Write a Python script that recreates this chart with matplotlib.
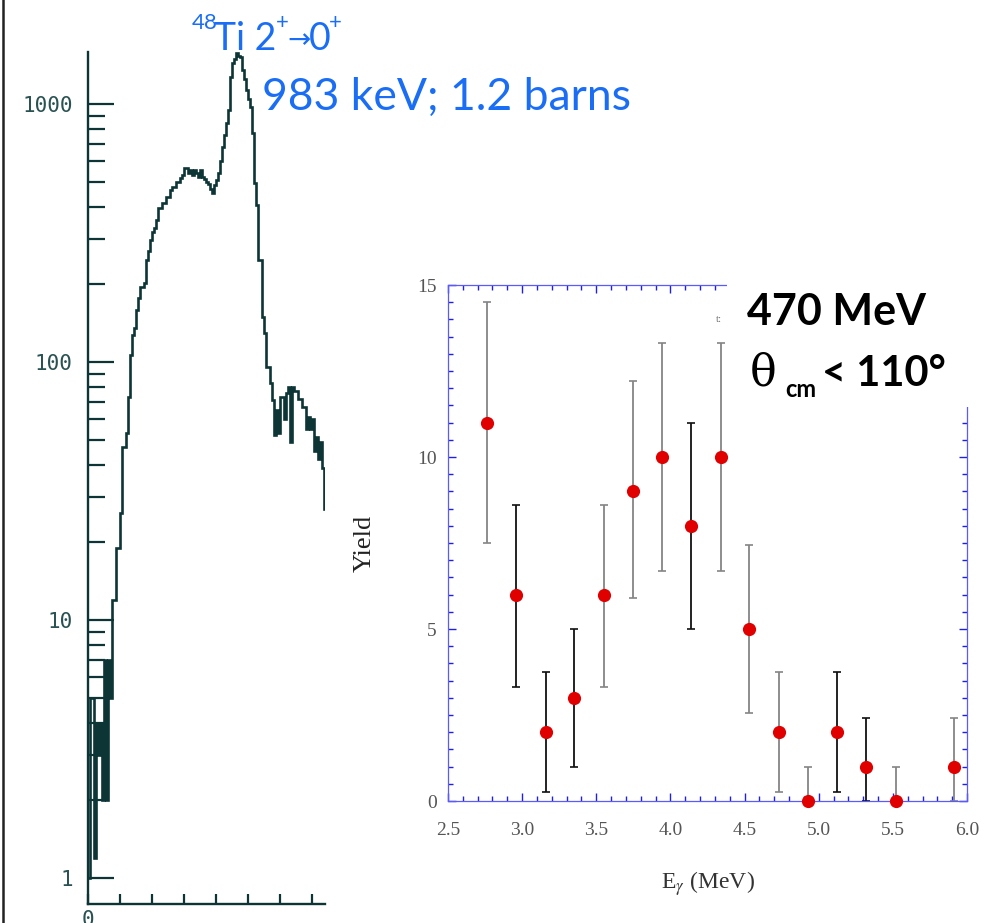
import numpy as np
import matplotlib
matplotlib.use("Agg")
import matplotlib.pyplot as plt
from matplotlib.transforms import IdentityTransform
from matplotlib.lines import Line2D
from matplotlib.patches import Rectangle
from matplotlib.ticker import MultipleLocator, FixedLocator, FixedFormatter, NullFormatter

plt.rcParams["mathtext.fontset"] = "stix"

W, H = 996, 923

# ---------------- data: gamma spectrum (counts per channel) ----------------
spectrum_counts = [
    1, 5, 5, 1.2, 4, 3, 4, 2, 7, 2, 7, 5,
    12, 12, 19, 19, 26, 47, 47, 53, 73, 106, 127, 135,
    159, 177, 195, 195, 202, 248, 270, 297, 319, 330, 355, 395,
    395, 413, 413, 436, 436, 464, 477, 477, 499, 499, 515, 531,
    565, 565, 540, 555, 530, 555, 540, 520, 555, 521, 510, 499,
    490, 470, 452, 485, 508, 540, 600, 681, 760, 844, 948, 1273,
    1442, 1500, 1576, 1540, 1521, 1355, 1250, 1133, 1050, 973, 772, 494,
    406, 248, 248, 150, 130, 96, 96, 83, 71, 52, 65, 53,
    73, 73, 60, 76, 80, 49, 80, 77, 77, 72, 72, 67,
    67, 55, 61, 55, 60, 45, 51, 42, 49, 39, 27,
]
spectrum_yticks = [1, 10, 100, 1000]
spectrum_yticklabels = ["1", "10", "100", "1000"]

# ---------------- data: yield vs E_gamma ----------------
e_gamma = [2.76, 2.96, 3.16, 3.35, 3.55, 3.75, 3.94, 4.14, 4.34, 4.53,
           4.73, 4.93, 5.12, 5.32, 5.52, 5.91]
yield_val = [11, 6, 2, 3, 6, 9, 10, 8, 10, 5, 2, 0, 2, 1, 0, 1]
yield_lo = [7.5, 3.3, 0.25, 1.0, 3.3, 5.9, 6.7, 5.0, 6.7, 2.55, 0.25, 0, 0.25, 0, 0, 0]
yield_hi = [14.5, 8.6, 3.75, 5.0, 8.6, 12.2, 13.3, 11.0, 13.3, 7.45, 3.75, 1.0, 3.75, 2.4, 1.0, 2.4]
bar_is_black = [False, True, True, True, False, False, False, True, False, False,
                False, False, True, True, False, False]

fig = plt.figure(figsize=(W / 100, H / 100), dpi=100)
fig.patch.set_facecolor("white")

def fx(px):
    return px / W

def fy(py):
    return 1 - py / H

# ---------------- left panel: spectrum ----------------
dark = "#0d3535"
axL = fig.add_axes([fx(88), fy(904), (325 - 88) / W, (904 - 52) / H])
edges = np.arange(len(spectrum_counts) + 1)
axL.stairs(spectrum_counts, edges, baseline=None, color=dark, lw=1.9)
axL.set_yscale("log")
axL.set_ylim(0.793, 1591)
axL.set_xlim(0, 118.5)
for s in ["top", "right"]:
    axL.spines[s].set_visible(False)
for s in ["left", "bottom"]:
    axL.spines[s].set_color(dark)
    axL.spines[s].set_linewidth(1.7)
axL.yaxis.set_major_locator(FixedLocator(spectrum_yticks))
axL.yaxis.set_major_formatter(FixedFormatter(spectrum_yticklabels))
minor = [m * 10 ** d for d in range(0, 4) for m in range(2, 10) if m * 10 ** d < 1591]
axL.yaxis.set_minor_locator(FixedLocator(minor))
axL.yaxis.set_minor_formatter(NullFormatter())
axL.tick_params(axis="y", which="major", direction="in", length=18.5, width=1.6,
                color=dark, labelsize=15, labelcolor="#2a5252", pad=11)
axL.tick_params(axis="y", which="minor", direction="in", length=12, width=1.6, color=dark)
xt = list(range(0, 117, 16))
axL.xaxis.set_major_locator(FixedLocator(xt))
axL.xaxis.set_major_formatter(FixedFormatter(["0"] + [""] * (len(xt) - 1)))
axL.tick_params(axis="x", which="major", direction="in", length=7, width=1.6,
                color=dark, labelsize=15, labelcolor="#2a5252", pad=4)
for lab in axL.get_yticklabels() + axL.get_xticklabels():
    lab.set_family("DejaVu Sans Mono")

# left border line
fig.add_artist(Line2D([fx(3), fx(3)], [0, 1], color="#222222", lw=1.8))

# ---------------- right panel: yield ----------------
axR = fig.add_axes([fx(448), fy(801), (967 - 448) / W, (801 - 285) / H])
axR.set_xlim(2.5, 6.0)
axR.set_ylim(0, 15)
for s in axR.spines.values():
    s.set_color("#5a5aff")
    s.set_linewidth(0.9)
axR.xaxis.set_major_locator(MultipleLocator(0.5))
axR.xaxis.set_minor_locator(MultipleLocator(0.1))
axR.yaxis.set_major_locator(MultipleLocator(5))
axR.yaxis.set_minor_locator(MultipleLocator(0.5))
axR.xaxis.set_major_formatter(plt.FormatStrFormatter("%.1f"))
axR.tick_params(which="both", direction="in", top=True, right=True, color="#2020e0", width=1.0)
axR.tick_params(which="major", length=6)
axR.tick_params(which="minor", length=3.5)
axR.tick_params(axis="both", labelsize=14, labelcolor="#555555")
axR.tick_params(axis="x", pad=15)
axR.tick_params(axis="y", pad=8)
for lab in axR.get_xticklabels() + axR.get_yticklabels():
    lab.set_family("Liberation Serif")

for i in range(len(e_gamma)):
    col = "#111111" if bar_is_black[i] else "#858585"
    lo = yield_val[i] - yield_lo[i]
    hi = yield_hi[i] - yield_val[i]
    _, caps, _ = axR.errorbar([e_gamma[i]], [yield_val[i]], yerr=[[lo], [hi]], fmt="none",
                              ecolor=col, elinewidth=1.3, capsize=3, capthick=1.2, zorder=2,
                              clip_on=False)
    for c in caps:
        c.set_color("#333333")
axR.plot(e_gamma, yield_val, "o", color="#e00000", markersize=9.5, zorder=3, clip_on=False,
         markeredgewidth=0)

axR.set_xlabel(r"E$_\gamma$ (MeV)", family="Liberation Serif", fontsize=17, color="#333333",
               labelpad=22)
axR.set_ylabel("Yield", family="Liberation Serif", fontsize=19, color="#222222", labelpad=30)

# white box hiding the corner of the right panel
fig.add_artist(Rectangle((fx(727), fy(407)), (W - 727) / W, (407 - 272) / H,
                         transform=fig.transFigure, facecolor="white", edgecolor="none",
                         zorder=10))
fig.text(fx(716), fy(322), "t:", fontsize=8, color="#777777", family="Liberation Serif",
         zorder=11)

# ---------------- annotations ----------------
def put(x, y, s, **kw):
    fig.text(x, H - y, s, transform=IdentityTransform(), va="baseline", ha="left",
             zorder=12, **kw)

tblue = "#1a6ef5"
f1 = dict(family=["Lato", "DejaVu Sans"], color=tblue)
put(192, 29, "48", fontsize=16, **f1)
put(214, 50, "Ti 2", fontsize=27, **f1)
put(276, 29, "+", fontsize=16, **f1)
put(287, 48, "\u2192", fontsize=20, family="DejaVu Sans", color=tblue)
put(309, 50, "0", fontsize=27, **f1)
put(329, 29, "+", fontsize=16, **f1)
put(262, 110, "983 keV; 1.2 barns", fontsize=32, **f1)

fb = dict(family=["Lato", "DejaVu Sans"], color="black", weight="bold")
put(747, 325, "470 MeV", fontsize=31, **fb)
put(750, 386, "\u03b8", fontsize=32, family="DejaVu Serif", color="black")
put(785, 397, "cm", fontsize=17, **fb)
put(822, 386, "< 110\u00b0", fontsize=30, **fb)

fig.savefig("out.png", dpi=100, facecolor="white")
